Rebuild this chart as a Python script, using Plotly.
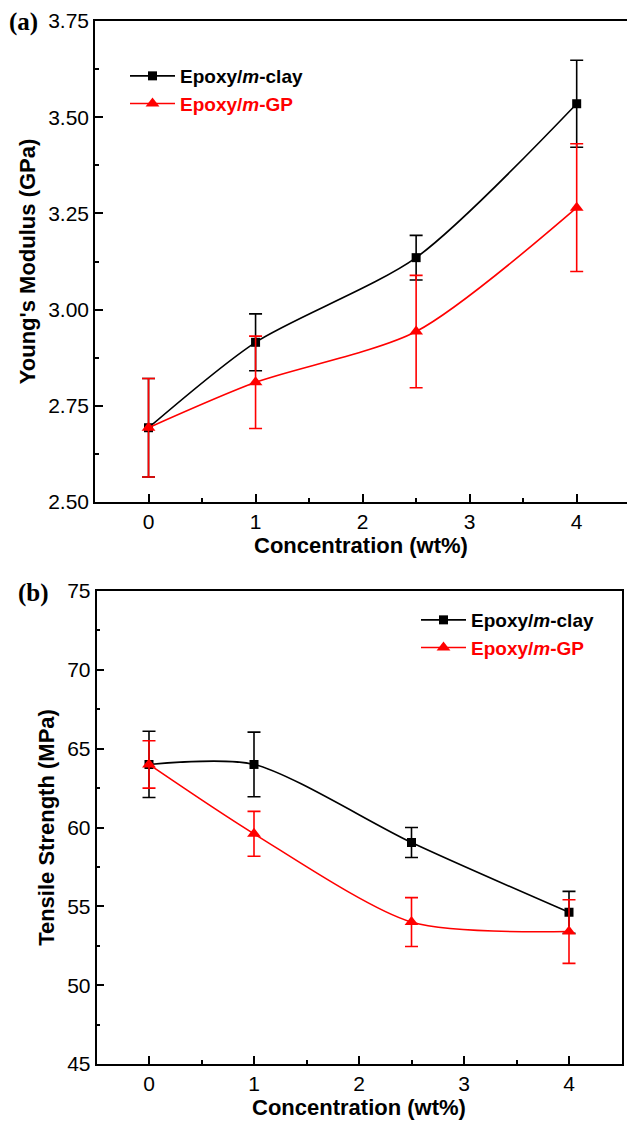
import plotly.graph_objects as go

# ---------------- data ----------------
conc = [0, 1, 2.5, 4]

ym_clay = [2.693, 2.915, 3.135, 3.535]
ym_clay_err = [0.128, 0.074, 0.058, 0.113]
ym_gp = [2.693, 2.811, 2.943, 3.265]
ym_gp_err = [0.128, 0.12, 0.146, 0.166]

ts_clay = [64.0, 64.0, 59.05, 54.62]
ts_clay_err = [2.1, 2.05, 0.95, 1.33]
ts_gp = [64.0, 59.6, 54.0, 53.4]
ts_gp_err = [1.5, 1.42, 1.55, 2.02]

name_clay = "<b>Epoxy/<i>m</i>-clay</b>"
name_gp = "<span style='color:#ff0000'><b>Epoxy/<i>m</i>-GP</b></span>"

# ---------------- geometry ----------------
W, H = 627, 1122
L, R, T, B = 95, 0, 21, 58
PW, PH = W - L - R, H - T - B


def xp(px):
    return (px - L) / PW


def yp(py):
    return (H - B - py) / PH


BLACK = "#000000"
RED = "#ff0000"

fig = go.Figure()


def add(x, y, err, name, color, symbol, size, xa, ya, legend):
    fig.add_trace(go.Scatter(
        x=x, y=y, name=name, mode="lines+markers",
        line=dict(color=color, width=1.6, shape="spline", smoothing=0.75),
        marker=dict(color=color, symbol=symbol, size=size, line=dict(width=0)),
        error_y=dict(type="data", array=err, visible=True, color=color,
                     thickness=1.6, width=6.5),
        xaxis=xa, yaxis=ya, legend=legend,
    ))


add(conc, ym_clay, ym_clay_err, name_clay, BLACK, "square", 9, "x", "y", "legend")
add(conc, ym_gp, ym_gp_err, name_gp, RED, "triangle-up", 12, "x", "y", "legend")
add(conc, ts_clay, ts_clay_err, name_clay, BLACK, "square", 9, "x2", "y2", "legend2")
add(conc, ts_gp, ts_gp_err, name_gp, RED, "triangle-up", 12, "x2", "y2", "legend2")

tickfont = dict(family="Liberation Sans, Arial, sans-serif", size=21, color="black")
titlefont = dict(family="Liberation Sans, Arial, sans-serif", size=22, color="black", weight="bold")

common_x = dict(
    tick0=0, dtick=1, ticks="inside", ticklen=8, tickwidth=1.5, tickcolor="black",
    minor=dict(dtick=0.5, ticks="inside", ticklen=4, tickwidth=1.5, tickcolor="black"),
    showline=True, linecolor="black", linewidth=1.6, showgrid=False, zeroline=False,
    tickfont=tickfont,
)
common_y = dict(
    ticks="inside", ticklen=8, tickwidth=1.5, tickcolor="black",
    showline=True, linecolor="black", linewidth=1.6, showgrid=False, zeroline=False,
    tickfont=tickfont,
)

fig.update_layout(
    width=W, height=H,
    margin=dict(l=L, r=R, t=T, b=B),
    paper_bgcolor="white", plot_bgcolor="white",
    font=dict(family="Liberation Sans, Arial, sans-serif", color="black"),
    xaxis=dict(common_x, domain=[0, 1], range=[-0.5, 4.47], anchor="y", mirror=True,
               title=dict(text="Concentration (wt%)", font=titlefont, standoff=5)),
    yaxis=dict(common_y, domain=[yp(502), 1], range=[2.5, 3.75], tick0=2.5, dtick=0.25,
               tickformat=".2f", anchor="x", mirror=False,
               minor=dict(dtick=0.125, ticks="inside", ticklen=4, tickwidth=1.5, tickcolor="black"),
               title=dict(text="Young's Modulus (GPa)", font=titlefont, standoff=6)),
    xaxis2=dict(common_x, domain=[xp(96.5), xp(621.5)], range=[-0.5, 4.5], anchor="y2", mirror=True,
                title=dict(text="Concentration (wt%)", font=titlefont, standoff=5)),
    yaxis2=dict(common_y, domain=[0, yp(591)], range=[45, 75], tick0=45, dtick=5,
                anchor="x2", mirror=True,
                minor=dict(dtick=2.5, ticks="inside", ticklen=4, tickwidth=1.5, tickcolor="black"),
                title=dict(text="Tensile Strength (MPa)", font=titlefont, standoff=6)),
    legend=dict(x=xp(125), y=yp(57), xanchor="left", yanchor="top",
                font=dict(size=19, color="black"), bgcolor="rgba(0,0,0,0)",
                itemwidth=45, tracegroupgap=0),
    legend2=dict(x=xp(416), y=yp(601), xanchor="left", yanchor="top",
                 font=dict(size=19, color="black"), bgcolor="rgba(0,0,0,0)",
                 itemwidth=45, tracegroupgap=0),
    showlegend=True,
)

panel_font = dict(family="Liberation Serif, Times New Roman, serif", size=25, color="black", weight="bold")
fig.add_annotation(text="<b>(a)</b>", x=xp(7), y=yp(22), xref="paper", yref="paper",
                   xanchor="left", yanchor="middle", showarrow=False, font=panel_font)
fig.add_annotation(text="<b>(b)</b>", x=xp(16), y=yp(593), xref="paper", yref="paper",
                   xanchor="left", yanchor="middle", showarrow=False, font=panel_font)

fig.write_html("out.html")
